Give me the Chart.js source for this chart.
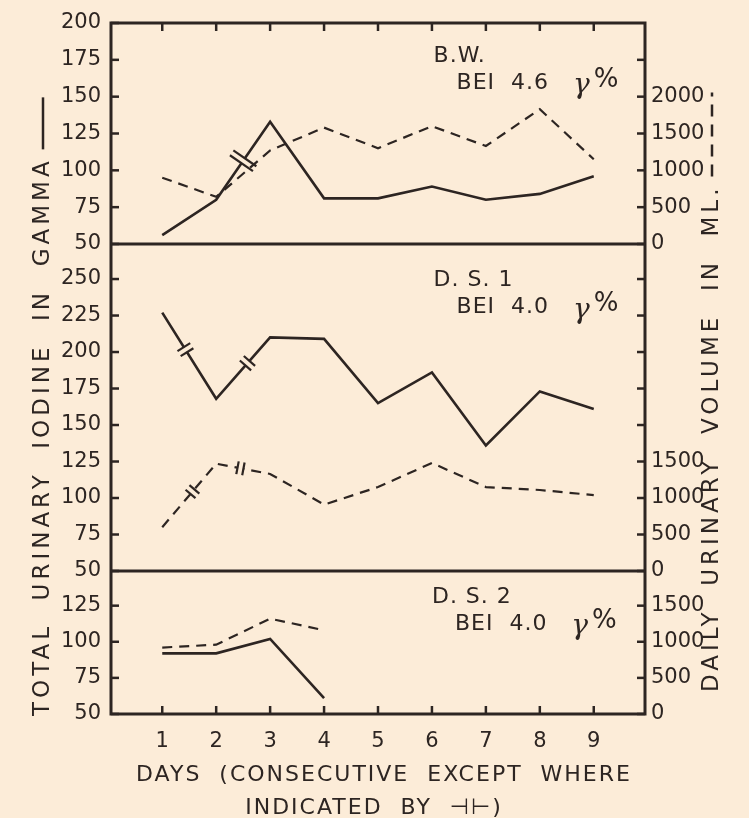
<!DOCTYPE html>
<html>
<head>
<meta charset="utf-8">
<script src="https://cdn.jsdelivr.net/npm/chart.js@4.4.0/dist/chart.umd.min.js"></script>
<style>
    html, body { margin: 0; padding: 0; background: #fcecd8; }
    #wrap { width: 749px; height: 818px; }
</style>
</head>
<body>
<div id="wrap"><canvas id="chart" width="749" height="818"></canvas></div>
<script>
// days on the x axis
const days = [1, 2, 3, 4, 5, 6, 7, 8, 9];

// B.W. : total urinary iodine (gamma) and daily volume (ml)
const iodineBW = [56, 80, 133, 81, 81, 89, 80, 84, 96];
const volumeBW = [900, 640, 1270, 1580, 1300, 1600, 1330, 1830, 1150];

// D.S. 1
const iodineDS1 = [227, 168, 210, 209, 165, 186, 136, 173, 161];
const volumeDS1 = [600, 1470, 1330, 910, 1150, 1480, 1150, 1110, 1040];

// D.S. 2 (only four days)
const iodineDS2 = [92, 92, 102, 61];
const volumeDS2 = [920, 960, 1320, 1160];

// non consecutive days, marked with -||- (day position along the line)
const breaksBW = [2.5];
const breaksDS1Iodine = [1.43, 2.58];
const breaksDS1Volume = [1.56, 2.45];

// tick values
const leftTicksBW = [50, 75, 100, 125, 150, 175, 200];
const leftTicksDS1 = [50, 75, 100, 125, 150, 175, 200, 225, 250];
const leftTicksDS2 = [50, 75, 100, 125];
const rightTicksBW = [0, 500, 1000, 1500, 2000, 2500];
const rightTicksDS1 = [0, 500, 1000, 1500, 2000, 2500, 3000, 3500, 4000];
const rightTicksDS2 = [0, 500, 1000, 1500];
const rightLabelsBW = [0, 500, 1000, 1500, 2000];
const rightLabelsDS1 = [0, 500, 1000, 1500];
const rightLabelsDS2 = [0, 500, 1000, 1500];

const ink = "#2d2522";
const paper = "#fcecd8";
const family = "'DejaVu Sans', 'Liberation Sans', sans-serif";

const leftAxis = (ticks, max, weight, stackWeight) => ({
    type: "linear",
    position: "left",
    stack: "left",
    stackWeight: stackWeight,
    weight: weight,
    min: 50,
    max: max,
    afterBuildTicks: (scale) => { scale.ticks = ticks.map((v) => ({ value: v })); },
    afterFit: (scale) => { scale.width = 111; },
    grid: { display: false, drawTicks: false },
    border: { display: false },
    ticks: { color: ink, font: { family: family, size: 21 }, padding: 10, autoSkip: false },
});

const rightAxis = (ticks, labels, max, weight, stackWeight) => ({
    type: "linear",
    position: "right",
    stack: "right",
    stackWeight: stackWeight,
    weight: weight,
    min: 0,
    max: max,
    afterBuildTicks: (scale) => { scale.ticks = ticks.map((v) => ({ value: v })); },
    afterFit: (scale) => { scale.width = 104; },
    grid: { display: false, drawTicks: false },
    border: { display: false },
    ticks: {
        color: ink,
        font: { family: family, size: 21 },
        padding: 6,
        autoSkip: false,
        callback: (v) => (labels.includes(v) ? String(v) : ""),
    },
});

const series = (values, yAxisID, dashed) => ({
    data: values.map((v, i) => ({ x: days[i], y: v })),
    yAxisID: yAxisID,
    xAxisID: "x",
    borderColor: ink,
    borderWidth: dashed ? 2.2 : 2.6,
    borderDash: dashed ? [10, 7] : [],
    pointRadius: 0,
    tension: 0,
    fill: false,
});

const line = (ctx, x1, y1, x2, y2) => {
    ctx.beginPath();
    ctx.moveTo(x1, y1);
    ctx.lineTo(x2, y2);
    ctx.stroke();
};

const drawBreak = (chart, dsIndex, day, len) => {
    const ctx = chart.ctx;
    const pts = chart.getDatasetMeta(dsIndex).data;
    const i = Math.floor(day) - 1;
    const t = day - Math.floor(day);
    const p0 = pts[i], p1 = pts[i + 1];
    const cx = p0.x + (p1.x - p0.x) * t;
    const cy = p0.y + (p1.y - p0.y) * t;
    const d = Math.hypot(p1.x - p0.x, p1.y - p0.y);
    const ux = (p1.x - p0.x) / d, uy = (p1.y - p0.y) / d;
    const nx = -uy, ny = ux;
    ctx.save();
    ctx.strokeStyle = paper;
    ctx.lineWidth = 5;
    line(ctx, cx - ux * 2.5, cy - uy * 2.5, cx + ux * 2.5, cy + uy * 2.5);
    ctx.strokeStyle = ink;
    ctx.lineWidth = 2.2;
    [-3, 3].forEach((s) => {
        const bx = cx + ux * s, by = cy + uy * s;
        line(ctx, bx - nx * len / 2, by - ny * len / 2, bx + nx * len / 2, by + ny * len / 2);
    });
    ctx.restore();
};

// subject label + BEI value, drawn top right of each panel
const drawLabel = (ctx, x, y, name, bei) => {
    ctx.save();
    ctx.fillStyle = ink;
    ctx.textBaseline = "middle";
    ctx.textAlign = "left";
    ctx.font = "22px " + family;
    ctx.letterSpacing = "1px";
    ctx.fillText(name, x, y);
    let bx = x + 23;
    const by = y + 27;
    const head = "BEI  " + bei + "   ";
    ctx.fillText(head, bx, by);
    bx += ctx.measureText(head).width;
    ctx.font = "italic 28px 'DejaVu Serif', serif";
    ctx.fillText("γ", bx, by + 3);
    bx += ctx.measureText("γ").width + 3;
    ctx.font = "26px " + family;
    ctx.fillText("%", bx, by - 3);
    ctx.restore();
};

// rotated title reading bottom to top, followed by the line sample
const drawSideTitle = (ctx, x, yBottom, text, sampleLen, dashed) => {
    ctx.save();
    ctx.fillStyle = ink;
    ctx.strokeStyle = ink;
    ctx.font = "23px " + family;
    ctx.letterSpacing = "4px";
    ctx.textAlign = "left";
    ctx.textBaseline = "middle";
    ctx.translate(x, yBottom);
    ctx.rotate(-Math.PI / 2);
    ctx.fillText(text, 0, 0);
    const w = ctx.measureText(text).width + 8;
    ctx.lineWidth = 2.5;
    if (dashed) ctx.setLineDash([12, 8]);
    line(ctx, w, 0, w + sampleLen, 0);
    ctx.restore();
};

const frame = {
    id: "frame",
    beforeDraw(chart) {
        const ctx = chart.ctx;
        ctx.save();
        ctx.fillStyle = paper;
        ctx.fillRect(0, 0, chart.width, chart.height);
        ctx.restore();
    },
    afterDatasetsDraw(chart) {
        const { ctx, chartArea: a, scales } = chart;
        ctx.save();
        ctx.strokeStyle = ink;
        ctx.lineWidth = 3;
        ctx.strokeRect(a.left, a.top, a.right - a.left, a.bottom - a.top);
        line(ctx, a.left, scales.yL1.bottom, a.right, scales.yL1.bottom);
        line(ctx, a.left, scales.yL2.bottom, a.right, scales.yL2.bottom);

        // inward tick marks
        ctx.lineWidth = 2.5;
        ["yL1", "yL2", "yL3"].forEach((id) => {
            scales[id].ticks.forEach((t) => {
                const y = scales[id].getPixelForValue(t.value);
                line(ctx, a.left, y, a.left + 8, y);
            });
        });
        ["yR1", "yR2", "yR3"].forEach((id) => {
            scales[id].ticks.forEach((t) => {
                const y = scales[id].getPixelForValue(t.value);
                line(ctx, a.right - 8, y, a.right, y);
            });
        });
        days.forEach((d) => {
            const x = scales.x.getPixelForValue(d);
            line(ctx, x, a.top, x, a.top + 8);
            line(ctx, x, a.bottom - 8, x, a.bottom);
        });
        ctx.restore();

        breaksBW.forEach((d) => drawBreak(chart, 0, d, 28));
        breaksDS1Iodine.forEach((d) => drawBreak(chart, 2, d, 15));
        breaksDS1Volume.forEach((d) => drawBreak(chart, 3, d, 13));

        const x = scales.x;
        drawLabel(ctx, x.getPixelForValue(6.03), scales.yL1.getPixelForValue(177.5), "B.W.", "4.6");
        drawLabel(ctx, x.getPixelForValue(6.03), scales.yL2.getPixelForValue(249), "D. S. 1", "4.0");
        drawLabel(ctx, x.getPixelForValue(6.0), scales.yL3.getPixelForValue(131), "D. S. 2", "4.0");

        drawSideTitle(ctx, 43, 716, "TOTAL  URINARY  IODINE  IN  GAMMA", 52, false);
        drawSideTitle(ctx, 712, 692, "DAILY  URINARY  VOLUME  IN  ML.", 84, true);

        // x axis caption
        ctx.save();
        ctx.fillStyle = ink;
        ctx.font = "22px " + family;
        ctx.letterSpacing = "2px";
        ctx.textAlign = "center";
        ctx.textBaseline = "middle";
        ctx.fillText("DAYS  (CONSECUTIVE  EXCEPT  WHERE", 384, 775);
        ctx.fillText("INDICATED  BY  ⊣⊢)", 374, 808);
        ctx.restore();
    },
};

new Chart(document.getElementById("chart"), {
    type: "line",
    data: {
        datasets: [
            series(iodineBW, "yL1", false),
            series(volumeBW, "yR1", true),
            series(iodineDS1, "yL2", false),
            series(volumeDS1, "yR2", true),
            series(iodineDS2, "yL3", false),
            series(volumeDS2, "yR3", true),
        ],
    },
    options: {
        responsive: false,
        animation: false,
        devicePixelRatio: 1,
        layout: { padding: { top: 23, left: 0, right: 0, bottom: 0 } },
        plugins: { legend: { display: false }, tooltip: { enabled: false } },
        scales: {
            x: {
                type: "linear",
                position: "bottom",
                min: 0.05,
                max: 9.95,
                afterBuildTicks: (scale) => { scale.ticks = days.map((v) => ({ value: v })); },
                afterFit: (scale) => { scale.height = 104; },
                grid: { display: false, drawTicks: false },
                border: { display: false },
                ticks: { color: ink, font: { family: family, size: 21 }, padding: 15, autoSkip: false, maxRotation: 0 },
            },
            yL1: leftAxis(leftTicksBW, 200, 3, 221),
            yL2: leftAxis(leftTicksDS1, 274, 2, 327),
            yL3: leftAxis(leftTicksDS2, 149, 1, 143),
            yR1: rightAxis(rightTicksBW, rightLabelsBW, 3000, 1, 221),
            yR2: rightAxis(rightTicksDS1, rightLabelsDS1, 4480, 2, 327),
            yR3: rightAxis(rightTicksDS2, rightLabelsDS2, 1980, 3, 143),
        },
    },
    plugins: [frame],
});
</script>
</body>
</html>
